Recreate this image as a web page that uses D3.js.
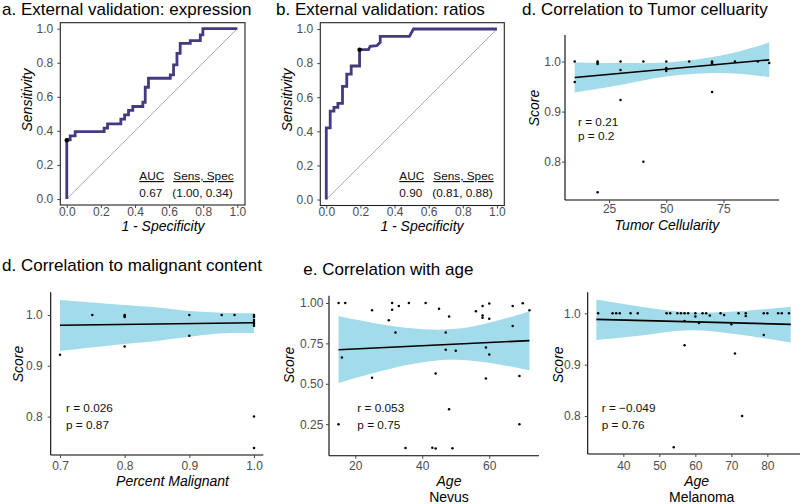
<!DOCTYPE html>
<html><head><meta charset="utf-8">
<script src="https://cdn.jsdelivr.net/npm/d3@7"></script>
<style>
html,body{margin:0;padding:0;background:#fff;}
svg{display:block;font-family:"Liberation Sans",Arial,Helvetica,sans-serif;}
</style></head>
<body>
<script>
// ---------------- DATA ----------------
// ROC curve vertices (1 - specificity, sensitivity)
const rocA_fpr = [0,0,0.02,0.02,0.049,0.049,0.219,0.219,0.239,0.239,0.317,0.317,0.339,0.339,0.362,0.362,0.387,0.387,0.446,0.446,0.46,0.46,0.479,0.479,0.607,0.607,0.626,0.626,0.646,0.646,0.665,0.665,0.724,0.724,0.783,0.783,0.798,0.798,1];
const rocA_tpr = [0,0.348,0.348,0.371,0.371,0.396,0.396,0.416,0.416,0.441,0.441,0.469,0.469,0.494,0.494,0.52,0.52,0.543,0.543,0.568,0.568,0.656,0.656,0.709,0.709,0.729,0.729,0.787,0.787,0.855,0.855,0.914,0.914,0.93,0.93,0.963,0.963,1,1];
const rocA_best = [0, 0.345];
const rocB_fpr = [0,0,0.023,0.023,0.045,0.045,0.068,0.068,0.095,0.095,0.12,0.12,0.146,0.146,0.195,0.195,0.247,0.257,0.296,0.316,0.316,0.487,0.511,1];
const rocB_tpr = [0,0.42,0.42,0.518,0.518,0.54,0.54,0.564,0.564,0.664,0.664,0.735,0.735,0.783,0.783,0.879,0.879,0.898,0.902,0.922,0.957,0.957,1,1];
const rocB_best = [0.195, 0.879];
const rocTicks = [0,0.2,0.4,0.6,0.8,1.0];
const aucA = ["0.67", "(1.00, 0.34)"];
const aucB = ["0.90", "(0.81, 0.88)"];

// Tumor cellularity
const tcX = [10,10,20,20,20,20,30,30,30,40,40,50,50,50,50,60,70,70,70,70,80,90,95];
const tcY = [1.0,0.959,1.0,0.998,0.995,0.739,1.0,0.983,0.923,1.0,0.80,1.0,0.987,0.984,0.981,1.0,1.0,0.998,0.996,0.939,1.0,1.0,0.997];
const tcFit = [[10,0.968],[95,1.0034]];
const tcBandX = [10,30,50,75,95];
const tcBandHi = [0.998,0.997,0.998,1.013,1.038];
const tcBandLo = [0.938,0.953,0.970,0.977,0.969];
const tcTicksX = [25,50,75];
const tcTicksY = [0.8,0.9,1.0];

// Percent malignant
const mX = [0.7,0.75,0.8,0.8,0.8,0.8,0.9,0.9,0.95,0.97,1.0,1.0,1.0,1.0,1.0,1.0,1.0,1.0,1.0];
const mY = [0.922,1.0,1.0,0.998,0.996,0.938,1.0,0.959,1.0,1.0,1.0,0.998,0.996,0.99,0.986,0.983,0.979,0.80,0.738];
const mFit = [[0.7,0.9797],[1.0,0.9848]];
const mBandX = [0.7,0.8,0.85,0.9,0.95,1.0];
const mBandHi = [1.0295,1.0197,1.015,1.008,1.0045,1.0033];
const mBandLo = [0.9295,0.943,0.949,0.957,0.964,0.9645];
const mTicksX = [0.7,0.8,0.9,1.0];
const mTicksY = [0.8,0.9,1.0];

// Age - Nevus
const nvX = [15,17,31,36,41,60,70, 25,31,33,45,56,58,58,58,60,67,72, 30,48, 32,47,67, 16,47,50,59,60, 25,44,59,69, 48, 15,69, 35,43,44,49];
const nvY = [1.0,1.0,1.0,1.0,1.0,0.996,0.998, 0.955,0.958,0.981,0.965,0.949,0.981,0.922,0.908,0.903,0.981,0.955, 0.893,0.916, 0.817,0.818,0.857, 0.662,0.711,0.704,0.725,0.681, 0.538,0.563,0.533,0.548, 0.342, 0.249,0.249, 0.103,0.104,0.099,0.101];
const nvFit = [[15,0.711],[72,0.767]];
const nvBandX = [15,20,25,30,35,40,45,50,55,60,65,70,72];
const nvBandHi = [0.920,0.897,0.878,0.860,0.846,0.838,0.835,0.840,0.855,0.877,0.905,0.935,0.950];
const nvBandLo = [0.503,0.535,0.564,0.590,0.614,0.632,0.645,0.648,0.643,0.630,0.612,0.592,0.584];
const nvTicksX = [20,40,60];
const nvTicksY = [0.25,0.50,0.75,1.00];

// Age - Melanoma
const mlX = [33,37,38,39,42,44,52,53,55,56,57,58,60,60,62,63,64,67,68,72,74,74,79,80,83,84,86, 57,61,70, 57,71,79,73,54];
const mlY = [1,1,1,1,1,1,1,1,1,1,1,1,1,0.994,1,1,0.996,1,0.997,1,1,0.995,1,1,1,1,1, 0.985,0.981,0.979, 0.938,0.922,0.958,0.80,0.739];
const mlFit = [[32.5,0.9883],[86.5,0.9786]];
const mlBandX = [32.5,45,58,72,86.5];
const mlBandHi = [1.027,1.013,1.002,1.004,1.013];
const mlBandLo = [0.948,0.957,0.967,0.959,0.943];
const mlTicksX = [40,50,60,70,80];
const mlTicksY = [0.8,0.9,1.0];

// ---------------- DRAW ----------------
const W = 800, H = 504;
const svg = d3.select("body").append("svg").attr("width", W).attr("height", H);
const tickCol = "#444";
const FS_TITLE = 17, FS_TICK = 12, FS_AX = 14, FS_ANN = 11.8;
const purple = "#45397f", band = "#a2dbea";

function title(txt, x, y) {
  svg.append("text").attr("x", x).attr("y", y).attr("font-size", FS_TITLE).attr("fill", "#000").text(txt);
}
function styleAxis(g) {
  g.select(".domain").remove();
  g.selectAll(".tick line").attr("stroke", tickCol).attr("stroke-width", 1);
  g.selectAll(".tick text").attr("fill", "#4d4d4d").attr("font-size", FS_TICK).attr("font-family", null);
}
function yTitle(txt, cx, cy) {
  svg.append("text").attr("transform", `translate(${cx},${cy}) rotate(-90)`).attr("text-anchor", "middle")
    .attr("dy", "0.35em").attr("font-size", FS_AX).attr("font-style", "italic").text(txt);
}
function xTitle(txt, cx, by, italic) {
  svg.append("text").attr("x", cx).attr("y", by).attr("text-anchor", "middle")
    .attr("font-size", FS_AX).attr("font-style", italic ? "italic" : "normal").text(txt);
}

function rocPanel(o) {
  const x = d3.scaleLinear().domain(o.xd).range(o.xr);
  const y = d3.scaleLinear().domain(o.yd).range(o.yr);
  const g = svg.append("g");
  g.append("line").attr("x1", x(0)).attr("y1", y(0)).attr("x2", x(1)).attr("y2", y(1))
    .attr("stroke", "#a8a8a8").attr("stroke-width", 1);
  const pts = o.fpr.map((f, i) => [f, o.tpr[i]]);
  g.append("path").datum(pts).attr("d", d3.line().x(d => x(d[0])).y(d => y(d[1])))
    .attr("fill", "none").attr("stroke", purple).attr("stroke-width", 2.8).attr("stroke-linejoin", "miter");
  g.append("circle").attr("cx", x(o.best[0])).attr("cy", y(o.best[1])).attr("r", 2.2).attr("fill", "#000");
  g.append("rect").attr("x", o.xr[0]).attr("y", o.yr[1]).attr("width", o.xr[1] - o.xr[0]).attr("height", o.yr[0] - o.yr[1])
    .attr("fill", "none").attr("stroke", "#222").attr("stroke-width", 1.1);
  const ax = g.append("g").attr("transform", `translate(0,${o.yr[0]})`)
    .call(d3.axisBottom(x).tickValues(rocTicks).tickFormat(d3.format(".1f")).tickSize(3).tickPadding(o.xp));
  styleAxis(ax);
  const ay = g.append("g").attr("transform", `translate(${o.xr[0]},0)`)
    .call(d3.axisLeft(y).tickValues(rocTicks).tickFormat(d3.format(".1f")).tickSize(3).tickPadding(o.yp));
  styleAxis(ay);
  const a = g.append("g").attr("font-size", FS_ANN).attr("fill", "#111");
  a.append("text").attr("x", o.annX[0]).attr("y", o.annY[0]).attr("text-decoration", "underline").text("AUC");
  a.append("text").attr("x", o.annX[1]).attr("y", o.annY[0]).attr("text-decoration", "underline").text("Sens, Spec");
  a.append("text").attr("x", o.annX[0]).attr("y", o.annY[1]).text(o.auc[0]);
  a.append("text").attr("x", o.annX[2]).attr("y", o.annY[1]).text(o.auc[1]);
}

rocPanel({xd:[-0.038,1.045], xr:[60.3,245], yd:[-0.035,1.035], yr:[205,22.7], fpr:rocA_fpr, tpr:rocA_tpr, best:rocA_best,
  xp:-1, yp:4, annX:[139.3,173.3,172.3], annY:[180,196.7], auc:aucA});
rocPanel({xd:[-0.035,1.043], xr:[320.3,504.3], yd:[-0.035,1.037], yr:[205.5,22.7], fpr:rocB_fpr, tpr:rocB_tpr, best:rocB_best,
  xp:-1.5, yp:4, annX:[399.3,433.3,432.3], annY:[180,196.7], auc:aucB});
title("a. External validation: expression", 2, 15);
title("b. External validation: ratios", 276, 15);
yTitle("Sensitivity", 27, 100);
yTitle("Sensitivity", 287, 100);
xTitle("1 - Specificity", 163, 231, true);
xTitle("1 - Specificity", 422, 231, true);

function scatterPanel(o) {
  const x = d3.scaleLinear().domain(o.xd).range(o.xr);
  const y = d3.scaleLinear().domain(o.yd).range(o.yr);
  const g = svg.append("g");
  const bandPts = o.bx.map((v, i) => [v, o.blo[i], o.bhi[i]]);
  g.append("path").datum(bandPts)
    .attr("d", d3.area().curve(d3.curveCatmullRom.alpha(0.5)).x(d => x(d[0])).y0(d => y(d[1])).y1(d => y(d[2])))
    .attr("fill", band).attr("stroke", "none");
  g.append("line").attr("x1", x(o.fit[0][0])).attr("y1", y(o.fit[0][1])).attr("x2", x(o.fit[1][0])).attr("y2", y(o.fit[1][1]))
    .attr("stroke", "#000").attr("stroke-width", 1.6);
  g.selectAll("circle.pt").data(o.px.map((v, i) => [v, o.py[i]])).enter().append("circle")
    .attr("cx", d => x(d[0])).attr("cy", d => y(d[1])).attr("r", 1.25).attr("fill", "#000");
  g.append("line").attr("x1", o.xr[0]).attr("x2", o.xr[0]).attr("y1", o.yr[0]).attr("y2", o.yr[1]).attr("stroke", "#000").attr("stroke-width", 1.1);
  g.append("line").attr("x1", o.xr[0]).attr("x2", o.xr[1]).attr("y1", o.yr[0]).attr("y2", o.yr[0]).attr("stroke", "#000").attr("stroke-width", 1.1);
  const ax = g.append("g").attr("transform", `translate(0,${o.yr[0]})`)
    .call(d3.axisBottom(x).tickValues(o.tx).tickFormat(o.fx).tickSize(3).tickPadding(o.xp));
  styleAxis(ax);
  const ay = g.append("g").attr("transform", `translate(${o.xr[0]},0)`)
    .call(d3.axisLeft(y).tickValues(o.ty).tickFormat(o.fy).tickSize(3).tickPadding(o.yp));
  styleAxis(ay);
  const a = g.append("g").attr("font-size", FS_ANN).attr("fill", "#111");
  a.append("text").attr("x", o.ann[0]).attr("y", o.ann[1]).text(o.r);
  a.append("text").attr("x", o.ann[0]).attr("y", o.ann[2]).text(o.p);
}

const f1 = d3.format(".1f"), f0 = d3.format("d"), f2 = d3.format(".2f");

scatterPanel({xd:[5.75,99.25], xr:[565,779], yd:[0.7234,1.053], yr:[200,35], px:tcX, py:tcY, fit:tcFit,
  bx:tcBandX, bhi:tcBandHi, blo:tcBandLo, tx:tcTicksX, ty:tcTicksY, fx:f0, fy:f1, xp:1.3, yp:1,
  ann:[578,125.5,139.5], r:"r = 0.21", p:"p = 0.2"});
title("d. Correlation to Tumor celluarity", 522, 15);
yTitle("Score", 534.5, 108);
xTitle("Tumor Cellularity", 667, 229.5, true);

scatterPanel({xd:[0.6856,1.0144], xr:[50.7,263.3], yd:[0.7244,1.0447], yr:[455,292.3], px:mX, py:mY, fit:mFit,
  bx:mBandX, bhi:mBandHi, blo:mBandLo, tx:mTicksX, ty:mTicksY, fx:f1, fy:f1, xp:3, yp:5,
  ann:[66,411.5,428.5], r:"r = 0.026", p:"p = 0.87"});
title("d. Correlation to malignant content", 2, 271);
yTitle("Score", 18.5, 364);
xTitle("Percent Malignant", 172.5, 485.5, true);

scatterPanel({xd:[12.15,74.85], xr:[329,539], yd:[0.055,1.045], yr:[455.7,295.7], px:nvX, py:nvY, fit:nvFit,
  bx:nvBandX, bhi:nvBandHi, blo:nvBandLo, tx:nvTicksX, ty:nvTicksY, fx:f0, fy:f2, xp:3, yp:2.7,
  ann:[357.3,412,428.5], r:"r = 0.053", p:"p = 0.75"});
title("e. Correlation with age", 303.3, 275);
yTitle("Score", 289, 365);
xTitle("Age", 449, 485.5, true);
xTitle("Nevus", 449, 501.5, false);

scatterPanel({xd:[30.1,89.9], xr:[587.7,803], yd:[0.726,1.041], yr:[454,292.3], px:mlX, py:mlY, fit:mlFit,
  bx:mlBandX, bhi:mlBandHi, blo:mlBandLo, tx:mlTicksX, ty:mlTicksY, fx:f0, fy:f1, xp:4, yp:4,
  ann:[601.7,412,428.5], r:"r = \u22120.049", p:"p = 0.76"});
yTitle("Score", 558, 364.7);
xTitle("Age", 696.7, 485.5, true);
xTitle("Melanoma", 701.7, 501.5, false);
</script>
</body></html>
